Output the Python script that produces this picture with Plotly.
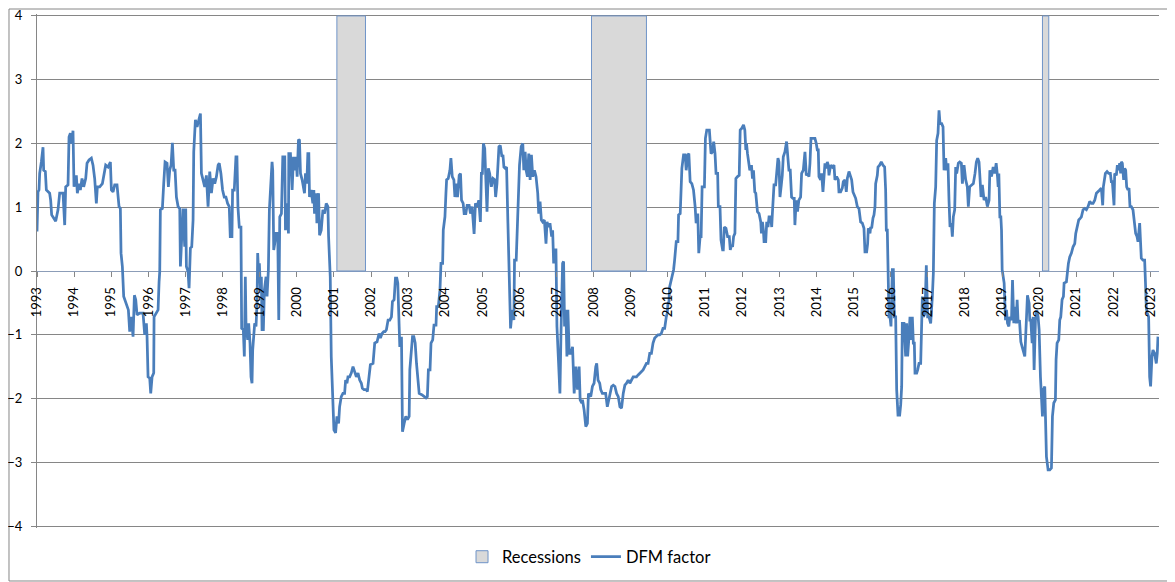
import plotly.graph_objects as go

# DFM factor (decimal year, value)
years_a = [1993.000, 1993.027, 1993.054, 1993.072, 1993.117, 1993.162, 1993.180, 1993.225, 1993.252, 1993.297,
           1993.341, 1993.368, 1993.395, 1993.449, 1993.503, 1993.566, 1993.611, 1993.701, 1993.746, 1993.773,
           1993.836, 1993.863, 1993.899, 1993.934, 1993.970, 1993.997, 1994.060, 1994.087, 1994.132, 1994.168,
           1994.213, 1994.258, 1994.312, 1994.348, 1994.402, 1994.465, 1994.509, 1994.554, 1994.599, 1994.626,
           1994.689, 1994.761, 1994.797, 1994.851, 1994.914, 1994.977, 1995.004, 1995.049, 1995.094, 1995.156,
           1995.210, 1995.246, 1995.264, 1995.300, 1995.336, 1995.408, 1995.462, 1995.498, 1995.543, 1995.588,
           1995.624, 1995.660, 1995.696, 1995.767, 1995.857, 1995.902, 1995.947, 1995.965, 1995.992, 1996.037,
           1996.064, 1996.100, 1996.145, 1996.154, 1996.217, 1996.262, 1996.289, 1996.307, 1996.324, 1996.378,
           1996.414, 1996.450, 1996.504, 1996.540, 1996.576, 1996.612, 1996.648, 1996.684, 1996.720, 1996.756,
           1996.801, 1996.846, 1996.864, 1996.891, 1996.935, 1996.980, 1997.007, 1997.025, 1997.070, 1997.097,
           1997.133, 1997.169, 1997.205, 1997.223, 1997.268, 1997.313, 1997.358, 1997.403, 1997.430, 1997.475,
           1997.519, 1997.564, 1997.609, 1997.654, 1997.699, 1997.744, 1997.789, 1997.834, 1997.879]
dfm_a = [0.62, 1.24, 1.27, 1.53, 1.71, 1.94, 1.58, 1.56, 1.27, 1.24,
         1.22, 1.11, 0.88, 0.83, 0.78, 0.96, 1.22, 1.22, 0.72, 1.32,
         1.35, 2.10, 2.16, 2.00, 2.20, 1.32, 1.50, 1.22, 1.37, 1.27,
         1.45, 1.32, 1.45, 1.69, 1.74, 1.77, 1.66, 1.45, 1.06, 1.32,
         1.32, 1.37, 1.50, 1.66, 1.63, 1.71, 1.27, 1.24, 1.35, 1.35,
         1.01, 0.98, 0.28, 0.07, -0.40, -0.51, -0.61, -0.95, -0.72, -1.03,
         -0.38, -0.45, -0.69, -0.66, -0.66, -1.00, -0.82, -1.03, -1.66, -1.68,
         -1.92, -1.66, -1.60, -0.72, -0.66, -0.61, -0.17, -0.01, 0.96, 0.98,
         1.37, 1.71, 1.69, 1.32, 1.58, 1.66, 2.01, 1.58, 1.58, 1.16,
         1.01, 0.98, 0.07, 0.54, 0.98, 0.38, 0.98, 0.07, -0.01, -0.27,
         0.36, 0.38, 0.80, 1.87, 2.37, 2.26, 2.39, 2.47, 1.53, 1.43,
         1.32, 1.50, 1.01, 1.56, 1.22, 1.45, 1.37, 1.48, 1.66]

years_b = [1997.910, 1997.955, 1998.000, 1998.045, 1998.090, 1998.135, 1998.180, 1998.207, 1998.252, 1998.270,
           1998.315, 1998.360, 1998.387, 1998.414, 1998.450, 1998.495, 1998.514, 1998.559, 1998.586, 1998.613,
           1998.631, 1998.676, 1998.703, 1998.739, 1998.766, 1998.793, 1998.811, 1998.838, 1998.865, 1998.901,
           1998.928, 1998.946, 1998.973, 1998.991, 1999.018, 1999.045, 1999.063, 1999.099, 1999.126, 1999.171,
           1999.198, 1999.234, 1999.261, 1999.306, 1999.333, 1999.351, 1999.378, 1999.405, 1999.441, 1999.486,
           1999.514, 1999.541, 1999.586, 1999.622, 1999.676, 1999.694, 1999.712, 1999.739, 1999.775, 1999.784,
           1999.829, 1999.874, 1999.910, 1999.937, 1999.982, 2000.009, 2000.045, 2000.072, 2000.099, 2000.144,
           2000.180, 2000.207, 2000.234, 2000.270, 2000.297, 2000.324, 2000.342, 2000.387, 2000.432, 2000.459,
           2000.477, 2000.523, 2000.541, 2000.586, 2000.613, 2000.658, 2000.703, 2000.748, 2000.793, 2000.838,
           2000.856, 2000.883, 2000.901, 2000.928, 2000.973]
dfm_b = [1.69, 1.53, 1.27, 1.16, 1.16, 1.06, 1.01, 0.54, 0.54, 1.27,
         1.27, 1.79, 1.79, 1.01, 0.69, 0.69, -0.90, -0.92, -1.34, -0.09,
         -0.82, -1.08, -0.82, -1.13, -1.66, -1.76, -1.24, -0.92, -0.82, -0.87,
         -0.51, 0.28, -0.09, 0.12, -0.30, -0.09, -0.92, -0.92, -0.30, -0.09,
         -0.40, 0.02, 0.96, 1.43, 1.71, 1.58, 0.33, 0.43, 0.59, 0.59,
         -0.77, 0.85, 0.90, 1.79, 1.79, 0.64, 0.96, 1.06, 0.59, 1.84,
         1.84, 1.27, 1.79, 1.58, 1.79, 1.48, 2.06, 2.05, 1.53, 1.43,
         1.27, 1.22, 1.53, 1.37, 1.84, 1.84, 1.16, 1.27, 1.06, 1.27,
         0.90, 1.22, 0.75, 1.22, 0.56, 0.64, 0.96, 0.90, 1.06, 1.01,
         0.54, -0.09, -0.09, -1.34, -2.13]

years_c = [2001.000, 2001.045, 2001.081, 2001.126, 2001.153, 2001.198, 2001.243, 2001.288, 2001.315, 2001.351,
           2001.378, 2001.423, 2001.468, 2001.514, 2001.559, 2001.604, 2001.649, 2001.694, 2001.739, 2001.766,
           2001.811, 2001.874, 2001.901, 2001.937, 2001.982, 2002.054, 2002.099, 2002.162, 2002.189, 2002.216,
           2002.252, 2002.297, 2002.342, 2002.378, 2002.414, 2002.459, 2002.505, 2002.550, 2002.577, 2002.622,
           2002.658, 2002.694, 2002.721, 2002.748, 2002.775, 2002.820, 2002.847, 2002.892, 2002.937, 2002.982,
           2003.027, 2003.045, 2003.081, 2003.117, 2003.153, 2003.189, 2003.225, 2003.270, 2003.297]
dfm_c = [-2.49, -2.54, -2.28, -2.39, -2.13, -1.97, -1.92, -1.92, -1.71, -1.76,
         -1.66, -1.66, -1.60, -1.50, -1.60, -1.66, -1.60, -1.71, -1.76, -1.84,
         -1.86, -1.86, -1.89, -1.71, -1.47, -1.45, -1.13, -1.11, -1.03, -0.98,
         -1.05, -0.98, -0.95, -0.95, -0.92, -0.77, -0.77, -0.72, -0.48, -0.45,
         -0.11, -0.11, -0.19, -0.56, -1.19, -1.03, -2.52, -2.39, -2.28, -2.33,
         -2.28, -1.55, -1.24, -1.03, -1.03, -1.13, -1.45, -1.76, -1.92]

years_d = [2003.366, 2003.429, 2003.482, 2003.518, 2003.545, 2003.589, 2003.616, 2003.661, 2003.696, 2003.750,
           2003.768, 2003.813, 2003.857, 2003.884, 2003.929, 2003.946, 2003.991, 2004.018, 2004.036, 2004.080,
           2004.125, 2004.152, 2004.188, 2004.232, 2004.259, 2004.304, 2004.330, 2004.375, 2004.411, 2004.438,
           2004.482, 2004.509, 2004.554, 2004.589, 2004.643, 2004.679, 2004.723, 2004.777, 2004.813, 2004.866,
           2004.902, 2004.946, 2004.973, 2005.000, 2005.027, 2005.063, 2005.089, 2005.125, 2005.161, 2005.196,
           2005.241, 2005.286, 2005.330, 2005.357, 2005.393, 2005.446, 2005.482, 2005.527, 2005.554, 2005.580,
           2005.616, 2005.652, 2005.688, 2005.714, 2005.732, 2005.759, 2005.786, 2005.821, 2005.848, 2005.866,
           2005.911, 2005.955, 2006.000, 2006.045, 2006.089, 2006.116, 2006.152, 2006.179, 2006.214, 2006.250,
           2006.286, 2006.321, 2006.357, 2006.402, 2006.446, 2006.491, 2006.518, 2006.554, 2006.589, 2006.625,
           2006.670, 2006.714, 2006.741, 2006.786, 2006.821, 2006.866, 2006.893, 2006.920, 2006.946, 2006.982,
           2007.009, 2007.045, 2007.089, 2007.116, 2007.161, 2007.188, 2007.214, 2007.250, 2007.277, 2007.304,
           2007.339, 2007.384, 2007.429, 2007.473, 2007.518, 2007.563, 2007.607, 2007.634, 2007.679, 2007.696,
           2007.741, 2007.786, 2007.830, 2007.857, 2007.920, 2007.964, 2008.009, 2008.054, 2008.080, 2008.116,
           2008.161, 2008.188, 2008.232, 2008.277, 2008.321, 2008.366, 2008.393]
dfm_d = [-1.94, -1.97, -1.99, -1.97, -1.55, -1.55, -1.13, -1.08, -0.85, -0.85,
         -0.56, -0.56, -0.30, 0.12, 0.12, 0.64, 0.85, 1.22, 1.43, 1.45,
         1.58, 1.77, 1.48, 1.43, 1.16, 1.37, 1.16, 1.50, 1.53, 1.11,
         1.06, 0.90, 0.90, 1.03, 1.03, 0.90, 1.01, 0.58, 1.06, 1.01,
         1.11, 0.77, 1.53, 1.53, 2.00, 1.92, 1.58, 0.93, 1.61, 1.53,
         1.32, 1.45, 1.43, 1.16, 1.37, 1.95, 1.97, 1.79, 1.82, 1.63,
         1.61, 1.63, 0.75, -0.04, -0.04, -0.90, -0.72, -0.61, -0.77, 0.17,
         0.17, 1.03, 1.66, 1.95, 2.00, 1.58, 1.87, 1.58, 1.48, 1.84,
         1.43, 1.82, 1.48, 1.58, 1.48, 1.22, 0.90, 1.09, 0.80, 0.77,
         0.80, 0.43, 0.77, 0.69, 0.75, 0.54, 0.64, 0.12, 0.33, 0.33,
         -0.87, -1.34, -1.92, -1.03, 0.12, 0.15, -0.87, -0.61, -1.34, -0.61,
         -1.29, -1.29, -1.19, -1.92, -1.50, -1.86, -1.50, -2.02, -2.07, -2.02,
         -2.18, -2.44, -2.39, -1.92, -1.97, -1.81, -1.76, -1.50, -1.45, -1.71,
         -1.76, -1.86, -1.92, -1.92, -1.92, -2.13, -2.05]

years_e = [2008.438, 2008.482, 2008.527, 2008.571, 2008.616, 2008.661, 2008.705, 2008.750, 2008.795, 2008.839,
           2008.884, 2008.929, 2008.973, 2009.018, 2009.063, 2009.107, 2009.152, 2009.196, 2009.241, 2009.286,
           2009.330, 2009.375, 2009.420, 2009.464, 2009.509, 2009.554, 2009.598, 2009.643, 2009.688, 2009.732,
           2009.777, 2009.821, 2009.866, 2009.911, 2009.955, 2009.982, 2010.000, 2010.027, 2010.045, 2010.071,
           2010.089, 2010.116, 2010.134, 2010.152, 2010.179, 2010.205, 2010.223, 2010.268, 2010.286, 2010.330,
           2010.357, 2010.375, 2010.420, 2010.464, 2010.491, 2010.536, 2010.563, 2010.598, 2010.643, 2010.688,
           2010.732, 2010.759, 2010.804, 2010.830, 2010.866, 2010.893, 2010.920, 2010.955, 2010.982, 2011.009,
           2011.045, 2011.116, 2011.161, 2011.205, 2011.232, 2011.268, 2011.295, 2011.339, 2011.357, 2011.402,
           2011.429, 2011.473, 2011.491, 2011.518, 2011.563, 2011.607, 2011.652, 2011.679, 2011.714, 2011.741,
           2011.768, 2011.804, 2011.830, 2011.875, 2011.920, 2011.946, 2011.991, 2012.036, 2012.071, 2012.098,
           2012.116, 2012.143, 2012.170, 2012.205, 2012.250, 2012.277, 2012.304, 2012.339, 2012.366, 2012.411,
           2012.455, 2012.500, 2012.518, 2012.545, 2012.571, 2012.589, 2012.634, 2012.661, 2012.696, 2012.723,
           2012.768, 2012.795, 2012.813, 2012.857, 2012.902, 2012.929, 2012.964, 2012.991, 2013.018, 2013.054,
           2013.080, 2013.107, 2013.152, 2013.196, 2013.223, 2013.259, 2013.295, 2013.330, 2013.366, 2013.402,
           2013.420, 2013.455, 2013.491, 2013.527]
dfm_e = [-1.92, -1.81, -1.79, -1.81, -1.92, -1.97, -2.13, -2.15, -1.92, -1.79,
         -1.76, -1.71, -1.76, -1.71, -1.66, -1.66, -1.66, -1.63, -1.60, -1.58,
         -1.55, -1.50, -1.45, -1.45, -1.29, -1.29, -1.13, -1.05, -1.03, -1.00,
         -1.00, -0.98, -0.90, -0.90, -0.72, -0.66, -0.51, -0.48, -0.25, -0.19,
         -0.11, -0.09, -0.01, 0.02, 0.17, 0.33, 0.46, 0.46, 0.88, 0.90,
         1.22, 1.61, 1.82, 1.82, 1.58, 1.82, 1.84, 1.40, 1.37, 1.27,
         1.01, 0.75, 0.90, 0.28, 0.54, 0.54, 1.32, 1.32, 1.32, 2.08,
         2.21, 2.21, 1.84, 1.87, 2.03, 1.84, 1.53, 1.53, 1.01, 1.01,
         0.49, 0.33, 0.33, 0.69, 0.67, 0.54, 0.54, 0.33, 0.41, 0.38,
         0.54, 0.59, 1.45, 1.48, 1.50, 2.21, 2.24, 2.29, 2.21, 1.90,
         2.00, 1.84, 1.69, 1.58, 1.66, 1.45, 1.58, 1.24, 1.22, 0.93,
         0.90, 0.77, 0.59, 0.77, 0.64, 0.46, 0.46, 0.77, 0.69, 0.85,
         0.85, 0.69, 0.90, 1.35, 1.35, 1.58, 1.77, 1.71, 1.16, 1.35,
         1.50, 1.79, 1.87, 2.03, 1.84, 1.58, 1.58, 1.16, 1.14, 1.14,
         0.72, 1.11, 0.93, 1.11]

years_f = [2013.574, 2013.601, 2013.646, 2013.691, 2013.727, 2013.763, 2013.799, 2013.826, 2013.853, 2013.906,
           2013.960, 2013.996, 2014.023, 2014.050, 2014.068, 2014.113, 2014.140, 2014.176, 2014.203, 2014.230,
           2014.266, 2014.293, 2014.320, 2014.338, 2014.383, 2014.428, 2014.473, 2014.499, 2014.544, 2014.589,
           2014.607, 2014.652, 2014.697, 2014.724, 2014.769, 2014.805, 2014.832, 2014.877, 2014.922, 2014.949,
           2014.985, 2015.030, 2015.057, 2015.101, 2015.146, 2015.191, 2015.236, 2015.281, 2015.308, 2015.353,
           2015.380, 2015.398, 2015.443, 2015.461, 2015.488, 2015.524, 2015.551, 2015.578, 2015.596, 2015.641,
           2015.659, 2015.703, 2015.748, 2015.793, 2015.838, 2015.865, 2015.883, 2015.910, 2015.928, 2015.955,
           2015.982, 2016.009, 2016.045, 2016.072, 2016.099, 2016.135, 2016.162, 2016.198, 2016.243, 2016.270,
           2016.297, 2016.314, 2016.359, 2016.386, 2016.404, 2016.431, 2016.458, 2016.494, 2016.521, 2016.548,
           2016.584, 2016.611, 2016.638, 2016.656, 2016.701, 2016.728, 2016.764, 2016.809, 2016.836, 2016.854,
           2016.881, 2016.925, 2016.961, 2016.997, 2017.033, 2017.078, 2017.123, 2017.150, 2017.177, 2017.213,
           2017.240, 2017.276, 2017.303, 2017.330, 2017.375, 2017.411, 2017.438, 2017.483, 2017.509, 2017.545,
           2017.572, 2017.599, 2017.635, 2017.662, 2017.689, 2017.725, 2017.752, 2017.779, 2017.824, 2017.860,
           2017.905, 2017.932, 2017.977, 2018.022, 2018.066, 2018.093, 2018.129, 2018.183, 2018.228, 2018.273,
           2018.309, 2018.345, 2018.381, 2018.408, 2018.435, 2018.471, 2018.516, 2018.561, 2018.606, 2018.651]
dfm_f = [1.16, 1.53, 1.58, 1.87, 1.50, 1.53, 1.48, 1.69, 2.08, 2.08,
         2.08, 2.00, 1.90, 1.90, 1.48, 1.43, 1.53, 1.24, 1.58, 1.69,
         1.61, 1.71, 1.66, 1.50, 1.66, 1.63, 1.66, 1.43, 1.48, 1.43,
         1.24, 1.24, 1.30, 1.40, 1.43, 1.24, 1.45, 1.56, 1.48, 1.43,
         1.24, 1.16, 1.14, 1.01, 0.98, 0.77, 0.75, 0.67, 0.30, 0.30,
         0.43, 0.67, 0.59, 0.69, 0.67, 0.83, 0.88, 1.01, 1.37, 1.50,
         1.63, 1.66, 1.71, 1.66, 1.63, 1.27, 0.64, 0.64, -0.09, -0.72,
         -0.72, -0.87, 0.02, 0.02, -0.72, -0.72, -1.86, -2.26, -2.26, -2.10,
         -1.81, -0.82, -0.82, -1.13, -1.34, -0.82, -1.34, -1.03, -0.72, -1.08,
         -0.72, -1.13, -1.13, -1.60, -1.60, -1.55, -1.45, -1.45, -0.82, -0.40,
         -0.72, -0.66, 0.09, -0.72, -0.72, -0.82, -0.40, -0.04, 1.06, 1.32,
         2.05, 2.16, 2.52, 2.31, 2.31, 2.26, 1.58, 1.77, 1.58, 1.69,
         1.11, 0.69, 0.75, 0.54, 0.85, 0.96, 1.63, 1.53, 1.69, 1.71,
         1.69, 1.37, 1.66, 1.43, 1.32, 1.01, 1.32, 1.35, 1.37, 1.53,
         1.71, 1.77, 1.71, 1.45, 1.16, 1.35, 1.11, 1.16, 1.01, 1.11]

years_g = [2018.673, 2018.717, 2018.762, 2018.807, 2018.843, 2018.879, 2018.897, 2018.915, 2018.942, 2018.969,
           2018.987, 2019.004, 2019.031, 2019.058, 2019.094, 2019.121, 2019.148, 2019.184, 2019.211, 2019.256,
           2019.283, 2019.318, 2019.345, 2019.381, 2019.408, 2019.435, 2019.471, 2019.507, 2019.543, 2019.578,
           2019.614, 2019.641, 2019.668, 2019.686, 2019.731, 2019.749, 2019.776, 2019.812, 2019.839, 2019.865,
           2019.901, 2019.937, 2019.973, 2020.000, 2020.036, 2020.063, 2020.090, 2020.117, 2020.152, 2020.170,
           2020.197, 2020.242, 2020.287, 2020.332, 2020.359, 2020.395, 2020.439, 2020.457, 2020.484, 2020.529,
           2020.556, 2020.583, 2020.619, 2020.655, 2020.673, 2020.735, 2020.762, 2020.789, 2020.825, 2020.870,
           2020.915, 2020.960, 2020.987, 2021.031, 2021.067, 2021.112, 2021.139, 2021.184, 2021.229, 2021.274,
           2021.318, 2021.363, 2021.408, 2021.453, 2021.498, 2021.543, 2021.587, 2021.632, 2021.677, 2021.713,
           2021.731, 2021.785, 2021.830, 2021.874, 2021.919, 2021.946, 2021.973, 2022.018, 2022.036, 2022.081,
           2022.108, 2022.144, 2022.170, 2022.197, 2022.215, 2022.242, 2022.278, 2022.305, 2022.332, 2022.359,
           2022.395, 2022.422, 2022.448, 2022.484, 2022.529, 2022.574, 2022.601, 2022.637, 2022.664, 2022.709,
           2022.726, 2022.753, 2022.798, 2022.843, 2022.870, 2022.888, 2022.915, 2022.951, 2022.978, 2023.004,
           2023.040, 2023.067, 2023.112, 2023.157, 2023.184, 2023.202]
dfm_g = [1.58, 1.48, 1.63, 1.53, 1.69, 1.48, 1.32, 1.53, 0.85, 0.85,
         0.64, 0.02, -0.14, -0.19, -0.77, -0.61, -0.82, -0.87, -0.72, -0.77,
         -0.14, -0.82, -0.56, -0.82, -0.45, -0.82, -0.77, -1.11, -1.19, -1.29,
         -1.34, -0.98, -0.51, -0.38, -0.51, -0.77, -0.77, -1.13, -0.72, -1.55,
         -0.77, -0.61, -0.72, -0.92, -1.66, -2.02, -2.28, -1.86, -1.81, -2.26,
         -2.91, -3.12, -3.12, -3.09, -2.28, -2.07, -2.02, -1.39, -1.13, -1.08,
         -0.77, -0.72, -0.45, -0.40, -0.19, -0.17, 0.02, 0.12, 0.22, 0.28,
         0.38, 0.43, 0.59, 0.69, 0.80, 0.83, 0.85, 0.96, 0.98, 0.96,
         1.01, 1.09, 1.06, 1.06, 1.11, 1.22, 1.24, 1.27, 1.30, 1.03,
         1.32, 1.53, 1.56, 1.53, 1.53, 1.40, 1.40, 1.03, 1.53, 1.50,
         1.66, 1.58, 1.69, 1.53, 1.71, 1.69, 1.43, 1.61, 1.58, 1.32,
         1.27, 1.30, 1.01, 1.01, 0.96, 0.75, 0.59, 0.54, 0.46, 0.75,
         0.54, 0.20, 0.17, 0.17, -0.25, -0.58, -0.66, -0.72, -1.66, -1.81,
         -1.34, -1.24, -1.29, -1.45, -1.29, -1.03]

# recessions (start / end, decimal years), shaded from 0 up to 4
rec_start = [2001.08, 2007.94, 2020.09]
rec_end = [2001.85, 2009.42, 2020.26]
rec_top = [4, 4, 4]

tick_years = list(range(1993, 2024))

years = years_a + years_b + years_c + years_d + years_e + years_f + years_g
dfm = dfm_a + dfm_b + dfm_c + dfm_d + dfm_e + dfm_f + dfm_g

fig = go.Figure()

fig.add_bar(x=[(a + b) / 2 for a, b in zip(rec_start, rec_end)], y=rec_top,
            width=[b - a for a, b in zip(rec_start, rec_end)], name="Recessions",
            marker=dict(color="#D9D9D9", line=dict(color="#6F94C8", width=1)))

fig.add_scatter(x=years, y=dfm, mode="lines", name="DFM factor",
                line=dict(color="#4A7EBB", width=2.75))

fonte = dict(family="Lato, Open Sans, sans-serif", size=13, color="black")

# x axis labels sit on the zero line, like Excel does; the line itself is the y zeroline
fig.update_xaxes(range=[1993, 2023.23], tickmode="array", tickvals=tick_years,
                 ticktext=[str(a) for a in tick_years], tickangle=-90, tickfont=fonte,
                 anchor="free", position=0.5, showline=False,
                 ticks="outside", ticklen=5, tickcolor="#868686", showgrid=False, zeroline=False,
                 ticklabelstandoff=5, automargin=False, ticklabeloverflow="allow")

# range a hair wider than +-4 so plotly keeps the gridlines at 4 and -4
fig.update_yaxes(range=[-4.03, 4.03], tickmode="array", tickvals=[-4, -3, -2, -1, 0, 1, 2, 3, 4],
                 tickfont=fonte, showgrid=True, gridcolor="#868686",
                 gridwidth=1, showline=True, linecolor="#868686", linewidth=1,
                 ticks="outside", ticklen=5, tickcolor="#868686",
                 zeroline=True, zerolinecolor="#8C9DB8", zerolinewidth=1,
                 ticklabelstandoff=6, automargin=False, ticklabeloverflow="allow")

# outer chart frame
fig.add_shape(type="rect", xref="paper", yref="paper", x0=-0.02496, x1=1.01248, y0=-0.1031, y1=1.0097,
              line=dict(color="#868686", width=1), layer="below")

# page has an 8px body margin, so the figure is 8px smaller and margins shifted
fig.update_layout(width=1167, height=574, margin=dict(l=29, r=16, t=6, b=54),
                  plot_bgcolor="white", paper_bgcolor="white", showlegend=True,
                  legend=dict(orientation="h", x=0.492, xanchor="center", y=-0.0564, yanchor="middle",
                              font=dict(family="Lato, Open Sans, sans-serif", size=16.5, color="black"),
                              itemwidth=30, traceorder="normal"),
                  hovermode="x unified")

fig.write_html("out.html")
